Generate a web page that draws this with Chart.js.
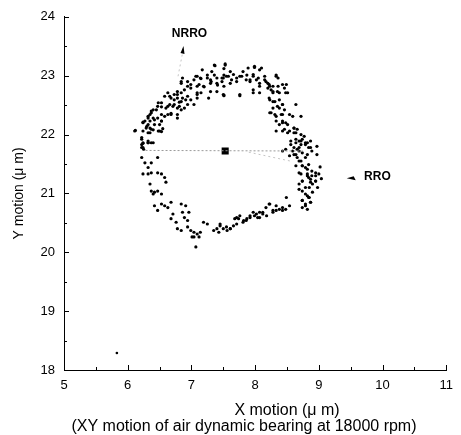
<!DOCTYPE html>
<html>
<head>
<meta charset="utf-8">
<script src="https://cdn.jsdelivr.net/npm/chart.js@4/dist/chart.umd.min.js"></script>
<style>
html,body{margin:0;padding:0;background:#fff;}
</style>
</head>
<body>
<canvas id="xyChart" width="461" height="435"></canvas>
<script>
// axis ranges (um)
const xRange = [5, 11];
const yRange = [18, 24];

const ringPoints = [
  // upper arc
  [7.17,23.10],[7.36,23.18],[7.53,23.20],[7.32,23.07],[7.61,23.07],[7.81,23.07],[7.99,23.14],[8.07,23.10],
  [7.97,23.02],[8.15,22.99],[8.33,22.99],[7.76,22.99],[7.66,23.02],[7.55,22.99],[7.50,22.96],[7.40,22.96],
  [7.30,22.93],[7.25,22.96],[7.14,22.96],[7.09,22.99],[7.04,22.93],[6.94,22.90],[6.84,22.87],[6.86,22.96],
  [7.12,22.85],[7.19,22.82],[7.30,22.87],[7.40,22.87],[7.48,22.90],[7.61,22.87],[7.71,22.90],[7.86,22.93],
  [7.92,22.90],[8.02,22.93],[8.07,22.87],[8.17,22.90],[8.22,22.85],[8.28,22.82],[8.20,22.79],[8.28,22.73],
  [8.35,22.73],[8.46,22.79],[8.48,22.71],[8.43,22.85],[8.07,22.82],[7.97,22.76],[7.76,22.68],[7.50,22.68],
  [7.30,22.73],[7.09,22.71],[6.99,22.79],[6.89,22.76],[6.78,22.73],[6.73,22.68],[6.63,22.71],[6.58,22.65],
  [6.68,22.62],[6.78,22.62],[6.84,22.56],[6.91,22.59],[6.99,22.59],[7.09,22.62],[7.04,22.51],[6.94,22.51],
  [6.81,22.48],[6.73,22.51],[6.63,22.48],[6.53,22.54],[6.47,22.48],[6.45,22.42],[6.37,22.40],[6.35,22.34],
  [6.32,22.28],[6.40,22.28],[6.47,22.28],[6.58,22.31],[6.68,22.34],[6.78,22.28],[6.53,22.23],[6.42,22.17],
  [6.32,22.17],[6.24,22.20],[6.29,22.11],[6.37,22.09],[6.35,22.03],[6.50,22.06],[6.55,22.10],[6.11,22.06],
  [6.22,21.95],[6.24,21.86],[6.32,21.89],[6.40,21.86],[6.24,21.78],
  // upper left, second pass
  [7.37,23.17],[7.51,23.12],[7.07,22.99],[7.15,22.95],[7.25,23.01],[7.31,22.90],[7.36,23.01],[7.41,22.84],
  [7.48,22.96],[7.51,22.82],[7.40,22.73],[7.51,22.66],[6.84,22.90],[6.94,22.82],[6.99,22.85],[7.09,22.82],
  [7.20,22.81],[6.78,22.68],[6.84,22.71],[6.66,22.65],[6.73,22.59],[6.81,22.55],[6.86,22.62],[6.94,22.65],
  [7.09,22.68],[7.15,22.71],[7.27,22.62],[6.48,22.54],[6.53,22.47],[6.60,22.45],[6.66,22.51],[6.71,22.48],
  [6.78,22.45],[6.84,22.42],[6.89,22.45],[6.63,22.34],[6.68,22.36],[6.78,22.34],[6.53,22.34],[6.40,22.42],
  [6.37,22.37],[6.32,22.31],[6.27,22.23],[6.24,22.21],[6.35,22.23],[6.42,22.25],[6.50,22.17],[6.53,22.23],
  [6.30,22.14],[6.35,22.11],[6.40,22.08],[6.48,22.06],[6.53,22.05],[6.12,22.07],[6.24,22.06],[6.32,22.03],
  [6.22,21.92],[6.24,21.85],[6.32,21.86],[6.37,21.86],[6.22,21.78],[6.25,21.75],
  // upper right
  [7.53,23.18],[7.89,23.13],[7.99,23.16],[8.10,23.13],[7.51,23.01],[7.58,22.99],[7.63,22.93],[7.71,22.96],
  [7.79,22.99],[7.87,23.01],[7.92,22.93],[7.97,22.99],[8.05,22.96],[8.15,22.93],[8.20,22.87],[8.23,22.82],
  [8.25,22.76],[8.33,23.01],[8.36,22.96],[8.36,22.82],[8.38,22.71],[8.49,22.85],[8.51,22.71],[8.28,22.71],
  [8.07,22.71],[7.97,22.71],[7.76,22.66],[7.51,22.67],[8.23,22.59],[8.31,22.56],[8.43,22.51],[8.64,22.51],
  [8.38,22.45],[8.46,22.42],[8.23,22.37],[8.31,22.34],[8.41,22.34],[8.54,22.34],[8.72,22.31],[8.33,22.23],
  [8.43,22.20],[8.51,22.17],[8.33,22.06],[8.43,22.06],[8.51,22.03],[8.61,22.11],[8.64,22.03],[8.56,21.89],
  [8.64,21.86],[8.72,21.89],[8.77,21.97],[8.82,21.86],[8.87,21.89],
  // right side
  [8.22,22.62],[8.28,22.56],[8.38,22.59],[8.35,22.48],[8.43,22.51],[8.28,22.45],[8.25,22.37],[8.33,22.31],
  [8.43,22.34],[8.59,22.31],[8.43,22.23],[8.48,22.20],[8.38,22.17],[8.46,22.09],[8.54,22.06],[8.61,22.11],
  [8.66,22.09],[8.72,22.00],[8.61,22.03],[8.64,21.92],[8.69,21.89],[8.74,21.92],[8.56,21.83],[8.61,21.78],
  [8.66,21.75],[8.72,21.83],[8.79,21.86],[8.84,21.78],[8.48,21.75],[8.43,21.72],[8.69,21.72],[8.74,21.69],
  [8.82,21.66],[8.89,21.72],[8.97,21.66],[8.61,21.66],[8.66,21.61],[8.72,21.55],[8.79,21.61],[8.84,21.49],
  [8.74,21.47],[8.64,21.47],[8.82,21.41],[8.89,21.38],[8.95,21.30],[8.82,21.30],[8.87,21.24],[8.69,21.35],
  [8.69,21.07],[8.74,21.04],[8.79,21.10],[8.82,20.96],[8.84,20.93],[8.74,20.88],[8.87,20.85],[8.79,20.79],
  [8.69,21.55],[8.74,21.47],[8.79,21.44],[8.72,21.33],[8.82,21.33],[8.84,21.27],[8.89,21.30],[8.95,21.35],
  [8.74,21.21],[8.87,21.19],[8.95,21.21],[8.69,21.78],[8.59,21.72],[8.54,21.64],[8.64,21.66],[8.79,21.83],
  [8.87,21.78],[8.97,21.80],[9.02,21.45],[9.04,21.25],[9.00,21.33],[8.98,21.10],
  // lower right
  [8.69,21.16],[8.74,21.21],[8.85,21.10],[8.90,21.16],[8.95,21.21],[8.79,20.99],[8.85,20.93],[8.90,21.02],
  [8.74,20.88],[8.79,20.82],[8.87,20.85],[8.74,20.76],[8.82,20.73],[8.49,20.93],[8.43,20.76],[8.33,20.71],
  [8.23,20.82],[8.28,20.68],[8.18,20.62],[8.12,20.68],[8.07,20.59],[8.02,20.65],[7.92,20.62],[7.87,20.57],
  [7.82,20.54],[7.71,20.48],[7.74,20.57],[7.61,20.40],[7.56,20.37],[7.45,20.48],[7.43,20.34],
  // bottom
  [7.35,20.37],[7.40,20.40],[7.45,20.45],[7.50,20.40],[7.55,20.43],[7.61,20.40],[7.66,20.45],[7.68,20.57],
  [7.71,20.59],[7.76,20.62],[7.81,20.51],[7.86,20.54],[7.92,20.59],[7.97,20.68],[7.99,20.62],[8.04,20.59],
  [8.07,20.68],[8.12,20.65],[8.17,20.76],[8.22,20.82],[8.28,20.71],[8.33,20.79],[8.38,20.73],[8.43,20.71],
  [8.48,20.73],[8.54,20.79],
  [6.76,20.51],[6.78,20.40],[6.84,20.37],[6.94,20.43],[6.99,20.37],[7.04,20.34],[7.04,20.26],[7.09,20.31],
  [7.14,20.34],[7.19,20.51],[7.25,20.48],[7.07,20.09],[7.01,20.26],[7.12,20.26],
  // lower left
  [6.22,21.83],[6.32,21.86],[6.22,21.61],[6.27,21.52],[6.37,21.52],[6.47,21.61],[6.24,21.33],[6.32,21.33],
  [6.37,21.35],[6.47,21.35],[6.53,21.33],[6.32,21.44],[6.35,21.16],[6.37,21.04],[6.42,21.02],[6.47,21.04],
  [6.53,20.99],[6.58,21.27],[6.60,21.19],[6.40,20.99],[6.42,20.79],[6.47,20.71],[6.53,20.82],[6.58,20.79],
  [6.63,20.76],[6.68,20.85],[6.71,20.65],[6.84,20.82],[6.86,20.68],[6.89,20.59],[6.94,20.54],[6.91,20.79],
  [6.96,20.68],[6.68,20.57]
];
const strayPoints = [[5.83, 18.29]];
const centerPoint = [[7.53, 21.72]];

// RRO trace through the centre
const rroLine = [[6.28, 21.73], [8.75, 21.72]];
const rroSlant = [[7.90, 21.70], [8.55, 21.55]];
const nrroLine = [[6.79, 22.99], [6.86, 23.38]];

// annotations
const noteText = ['NRRO', 'RRO'];
const notePos = [[6.97, 23.71], [9.92, 21.28]];
const nrroArrow = [6.86, 23.42];
const rroArrow = [9.50, 21.24];
const xTitle = 'X motion (\u03bc m)';
const caption = '(XY motion of air dynamic bearing at 18000 rpm)';

const toXY = arr => arr.map(p => ({x: p[0], y: p[1]}));
const FAMILY = '"Liberation Sans", Arial, sans-serif';

const axisTicks = {
  id: 'axisTicks',
  afterDraw(chart) {
    const {ctx, chartArea: a, scales: {x, y}} = chart;
    ctx.save();
    ctx.strokeStyle = '#000';
    ctx.lineWidth = 1;
    ctx.beginPath();
    for (let v = xRange[0]; v <= xRange[1]; v += 0.5) {
      const px = Math.round(x.getPixelForValue(v)) + 0.5;
      const len = v % 1 === 0 ? 5 : 3;
      ctx.moveTo(px, a.bottom);
      ctx.lineTo(px, a.bottom - len);
    }
    for (let v = yRange[0]; v <= yRange[1]; v += 0.5) {
      const py = Math.round(y.getPixelForValue(v)) + 0.5;
      const len = v % 1 === 0 ? 5 : 3;
      ctx.moveTo(a.left, py);
      ctx.lineTo(a.left + len, py);
    }
    ctx.stroke();

    // labels and arrow heads
    ctx.fillStyle = '#000';
    ctx.font = 'bold 12px ' + FAMILY;
    ctx.textAlign = 'center';
    ctx.textBaseline = 'middle';
    noteText.forEach((t, i) => {
      ctx.fillText(t, x.getPixelForValue(notePos[i][0]), y.getPixelForValue(notePos[i][1]));
    });
    let ax = x.getPixelForValue(nrroArrow[0]), ay = y.getPixelForValue(nrroArrow[1]);
    ctx.beginPath();
    ctx.moveTo(ax + 1, ay - 5);
    ctx.lineTo(ax + 2, ay + 3);
    ctx.lineTo(ax - 2, ay + 2);
    ctx.closePath();
    ctx.fill();
    ax = x.getPixelForValue(rroArrow[0]); ay = y.getPixelForValue(rroArrow[1]);
    ctx.beginPath();
    ctx.moveTo(ax - 4, ay - 1);
    ctx.lineTo(ax + 5, ay + 1);
    ctx.lineTo(ax + 3, ay - 3);
    ctx.closePath();
    ctx.fill();

    // x axis title and caption (the caption sits a little left of the title)
    ctx.font = '16px ' + FAMILY;
    ctx.fillText(xTitle, 287, 411);
    ctx.fillText(caption, 244, 427);
    ctx.restore();
  }
};

const tickFont = {family: FAMILY, size: 13};
const yTitleFont = {family: FAMILY, size: 14, lineHeight: 1.2};

new Chart(document.getElementById('xyChart').getContext('2d'), {
  type: 'scatter',
  data: {
    datasets: [
      {data: toXY(rroLine), showLine: true, borderColor: '#9a9a9a', borderWidth: 1, borderDash: [2, 2], pointRadius: 0},
      {data: toXY(rroSlant), showLine: true, borderColor: '#c4c4c4', borderWidth: 1, borderDash: [2, 3], pointRadius: 0},
      {data: toXY(nrroLine), showLine: true, borderColor: '#c4c4c4', borderWidth: 1, borderDash: [2, 3], pointRadius: 0},
      {data: toXY(ringPoints), pointRadius: 1.6, pointBorderWidth: 0, backgroundColor: '#000', borderColor: '#000'},
      {data: toXY(strayPoints), pointRadius: 1.3, pointBorderWidth: 0, backgroundColor: '#000'},
      {data: toXY(centerPoint), pointStyle: 'rect', pointRadius: 5, pointBorderWidth: 0, backgroundColor: '#000'}
    ]
  },
  options: {
    responsive: false,
    animation: false,
    layout: {padding: {top: 15, right: 9, left: 0, bottom: 0}},
    plugins: {legend: {display: false}, tooltip: {enabled: false}},
    scales: {
      x: {
        type: 'linear', min: xRange[0], max: xRange[1],
        afterFit: s => { s.height = 65; },
        grid: {display: false, drawTicks: false},
        border: {display: true, color: '#000', width: 1},
        ticks: {stepSize: 1, color: '#000', font: tickFont, padding: 8, maxRotation: 0}
      },
      y: {
        type: 'linear', min: yRange[0], max: yRange[1],
        afterFit: s => { s.width = 64; },
        grid: {display: false, drawTicks: false},
        border: {display: true, color: '#000', width: 1},
        ticks: {stepSize: 1, color: '#000', font: tickFont, padding: 9},
        title: {display: true, text: 'Y motion (\u03bc m)', color: '#000', font: yTitleFont, padding: {top: 11, bottom: 0}}
      }
    }
  },
  plugins: [axisTicks]
});
</script>
</body>
</html>
